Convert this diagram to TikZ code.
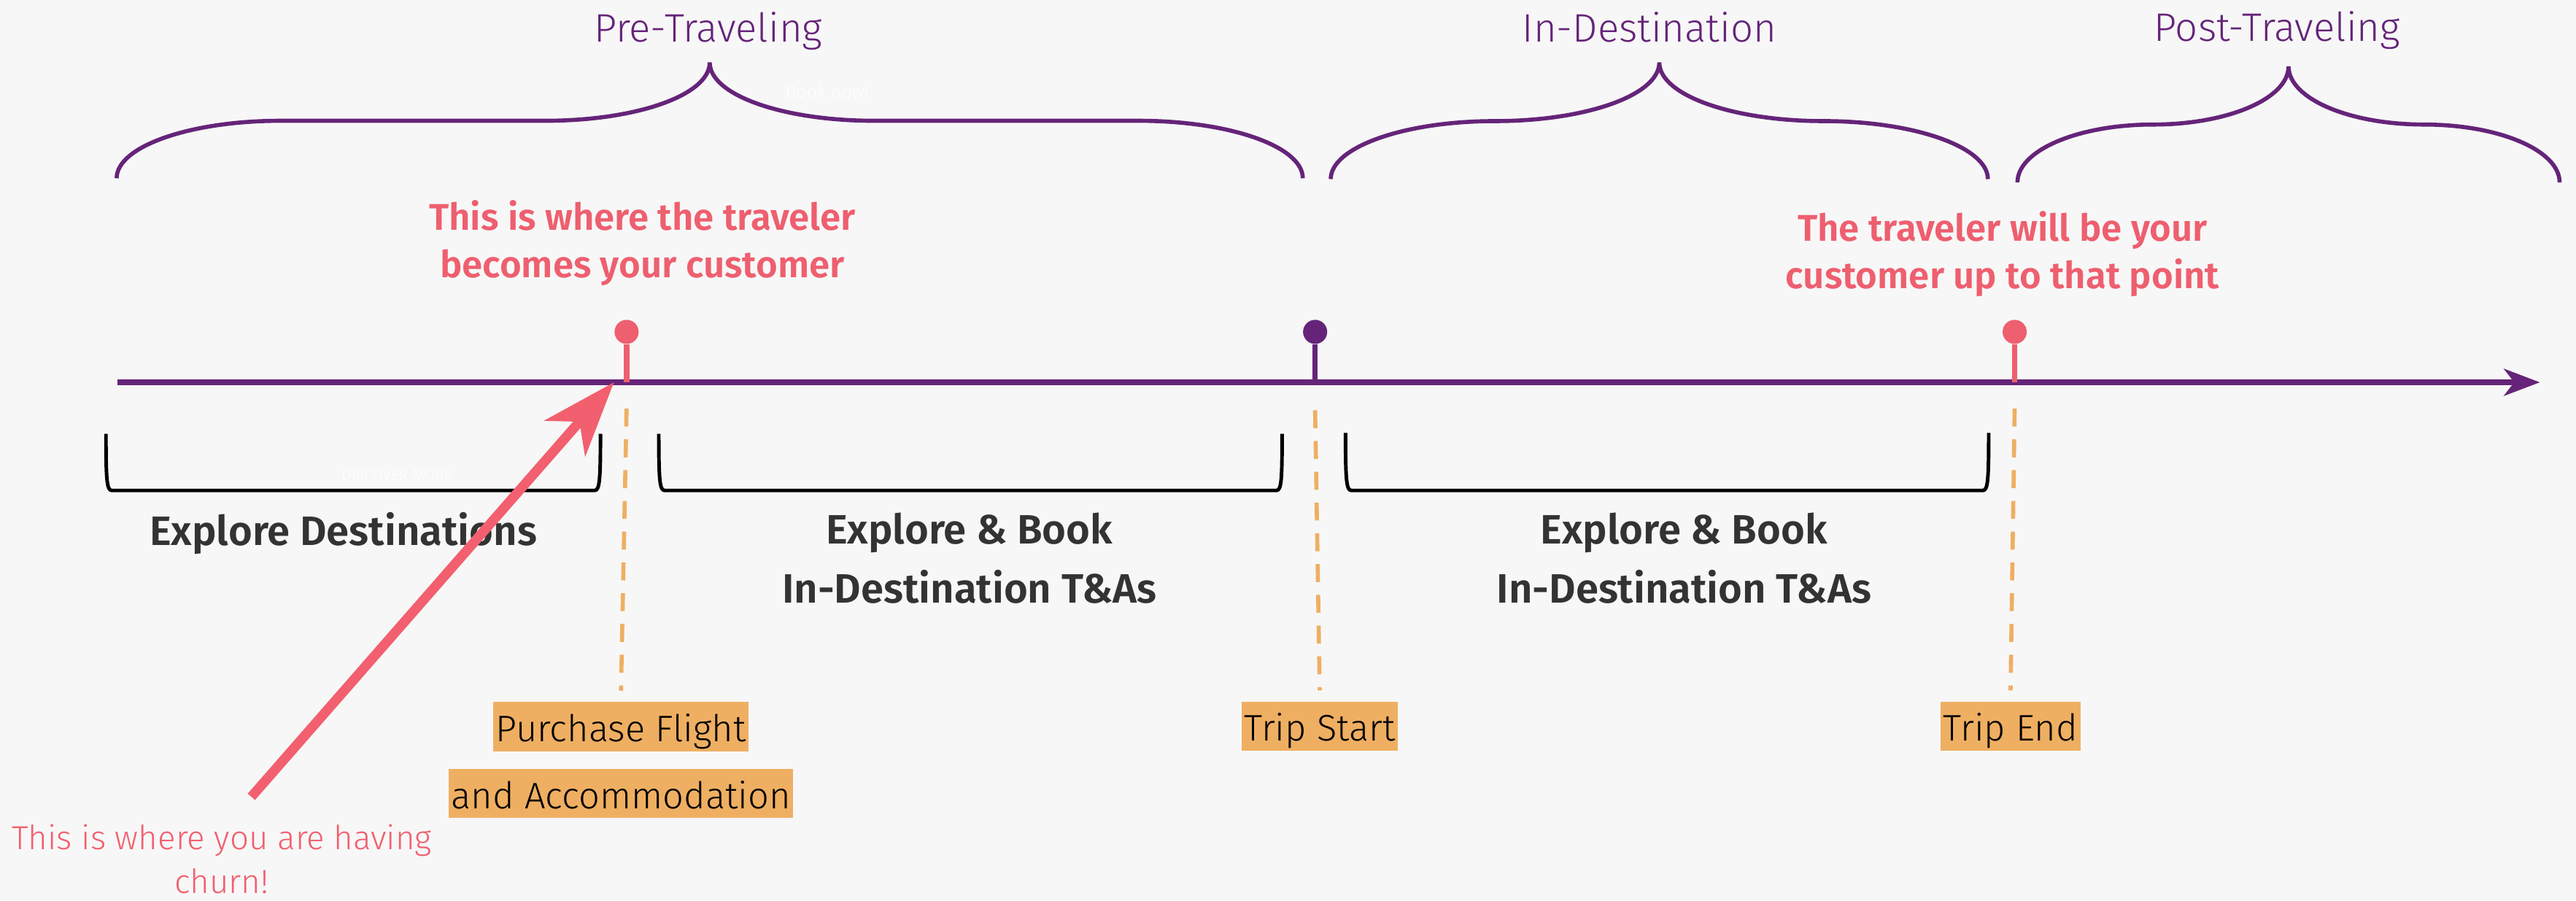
\documentclass[tikz,border=0pt]{standalone}
\usepackage{fontspec}
\setmainfont{Fira Sans}
\newfontfamily\lightfont{Fira Sans Light}
\newfontfamily\semifont{Fira Sans SemiBold}
\usetikzlibrary{arrows.meta,calc}

\definecolor{bgcol}{HTML}{F7F7F7}
\definecolor{tripurple}{HTML}{652479}
\definecolor{custred}{HTML}{EE5F6F}
\definecolor{churnred}{HTML}{F2606F}
\definecolor{boxorange}{HTML}{EFAF62}
\definecolor{labelgray}{HTML}{333333}

\begin{document}
\begin{tikzpicture}[x=0.2252mm, y=-0.2252mm,
    phase/.style={anchor=base, inner sep=0pt, text=tripurple, font=\lightfont\fontsize{15.5}{18}\selectfont},
    note/.style={anchor=base, align=center, inner sep=0pt, text=custred, font=\semifont\fontsize{14.5}{18.5}\selectfont},
    stage/.style={anchor=base, align=center, inner sep=0pt, text=labelgray, font=\semifont\fontsize{16}{23}\selectfont},
    churnnote/.style={anchor=base, align=center, inner sep=0pt, text=churnred, font=\lightfont\fontsize{13}{17}\selectfont},
    faint/.style={anchor=base, inner sep=0pt, text=white, font=\lightfont\fontsize{7}{8}\selectfont},
    event/.style={fill=boxorange, inner xsep=1pt, inner ysep=0pt, text height=15.4pt, text depth=3.8pt, font=\lightfont\fontsize{14.4}{18}\selectfont},
    stopdot/.style={circle, fill=#1, inner sep=0pt, minimum size=9.4pt},
    stem/.style={line width=2.1pt},
    phasebrace/.style={draw=tripurple, line width=1.6pt},
    stagebracket/.style={draw=black, line width=1.4pt, line join=round},
    eventline/.style={draw=boxorange, line width=1.6pt, dash pattern=on 7pt off 5pt},
    timeline/.style={draw=tripurple, line width=2.1pt, -{Stealth[length=14pt, width=10.5pt, inset=4pt]}},
    churnarrow/.style={draw=churnred, line width=3.8pt, -{Stealth[length=29pt, width=21pt, inset=8.6pt]}}]
    % background
    \fill[bgcol] (0,0) rectangle (1568,548);

    % Phases
    \node[phase] (pretrav) at (431,25.4) {Pre-Traveling};
    \node[phase] (indest) at (1004,25.4) {In-Destination};
    \node[phase] (posttrav) at (1386,25) {Post-Traveling};
    \node[faint] (booknow) at (503.5,59.6) {Book now!};
    \draw[phasebrace] (71,108.5) .. controls (71,89) and (116,73.5) .. (171,73.5) -- (332,73.5)
        .. controls (387,73.5) and (432,58) .. (432,38) .. controls (432,58) and (477,73.5) .. (532,73.5)
        -- (693,73.5) .. controls (748,73.5) and (793,89) .. (793,108.5);
    \draw[phasebrace] (810,109) .. controls (810,89.5) and (855,73.7) .. (910,73.7)
        .. controls (965,73.7) and (1010,58) .. (1010,38) .. controls (1010,58) and (1055,73.7) .. (1110,73.7)
        .. controls (1165,73.7) and (1210,89.5) .. (1210,109);
    \draw[phasebrace] (1228,111) .. controls (1228,91.5) and (1265,75.8) .. (1310.5,75.8)
        .. controls (1356,75.8) and (1393,60) .. (1393,40.4) .. controls (1393,60) and (1430,75.8) .. (1475.5,75.8)
        .. controls (1521,75.8) and (1558,91.5) .. (1558,111);

    % Notes above the line
    \node[note] (becomes) at (391,169) {This is where the traveler\\becomes your customer};
    \node[note] (upto) at (1219,175.6) {The traveler will be your\\customer up to that point};

    % Timeline and stops
    \coordinate (axisstart) at (71.5,232.7);
    \coordinate (axisend) at (1546,232.7);
    \coordinate (purchase) at (381.4,232.7);
    \coordinate (tripstart) at (800.5,232.7);
    \coordinate (tripend) at (1226.3,232.7);
    \draw[timeline] (axisstart) -- (axisend);
    \node[stopdot=custred] (custdot) at (381.4,202) {};
    \node[stopdot=tripurple] (startdot) at (800.5,202) {};
    \node[stopdot=custred] (enddot) at (1226.3,202) {};
    \draw[stem, custred] (custdot) -- (purchase);
    \draw[stem, tripurple] (startdot) -- (tripstart);
    \draw[stem, custred] (enddot) -- (tripend);

    % Stages below the line
    \draw[stagebracket] (64.5,264) .. controls (64.5,292) and (65,298.5) .. (68,298.5) -- (362,298.5)
        .. controls (365,298.5) and (365.5,292) .. (365.5,264);
    \draw[stagebracket] (401,264) .. controls (401,292) and (401.5,298.5) .. (404.5,298.5) -- (777,298.5)
        .. controls (780,298.5) and (780.4,292) .. (780.4,264);
    \draw[stagebracket] (819,263.5) .. controls (819,292) and (819.5,298.5) .. (822.5,298.5) -- (1207,298.5)
        .. controls (1210,298.5) and (1210.5,292) .. (1210.5,263.5);
    \node[faint, font=\lightfont\fontsize{6}{7}\selectfont] (discover) at (241.5,292.2) {DISCOVER MORE};
    \node[stage] (exdest) at (209,332) {Explore Destinations};
    \node[stage] (exbookpre) at (590,367) {Explore \& Book\\In-Destination T\&As};
    \node[stage] (exbookin) at (1025,367) {Explore \& Book\\In-Destination T\&As};

    % Events
    \node[event] (pfbox) at (378,442.2) {Purchase Flight};
    \node[event] (accbox) at (378,483) {and Accommodation};
    \node[event] (startbox) at (803.3,442) {Trip Start};
    \node[event] (endbox) at (1223.8,442) {Trip End};
    \draw[eventline] ($(purchase)+(0,16)$) -- ($(pfbox.north)+(0,-6.5)$);
    \draw[eventline] ($(tripstart)+(0,17)$) -- ($(startbox.north)+(0,-6.5)$);
    \draw[eventline] ($(tripend)+(0,16)$) -- ($(endbox.north)+(0,-6.5)$);

    % Churn
    \node[churnnote] (churn) at (135,543.6) {This is where you are having\\churn!};
    \coordinate (churnfrom) at (153,485);
    \coordinate (churnto) at (373.7,232.7);
    \draw[churnarrow] (churnfrom) -- (churnto);
\end{tikzpicture}
\end{document}
